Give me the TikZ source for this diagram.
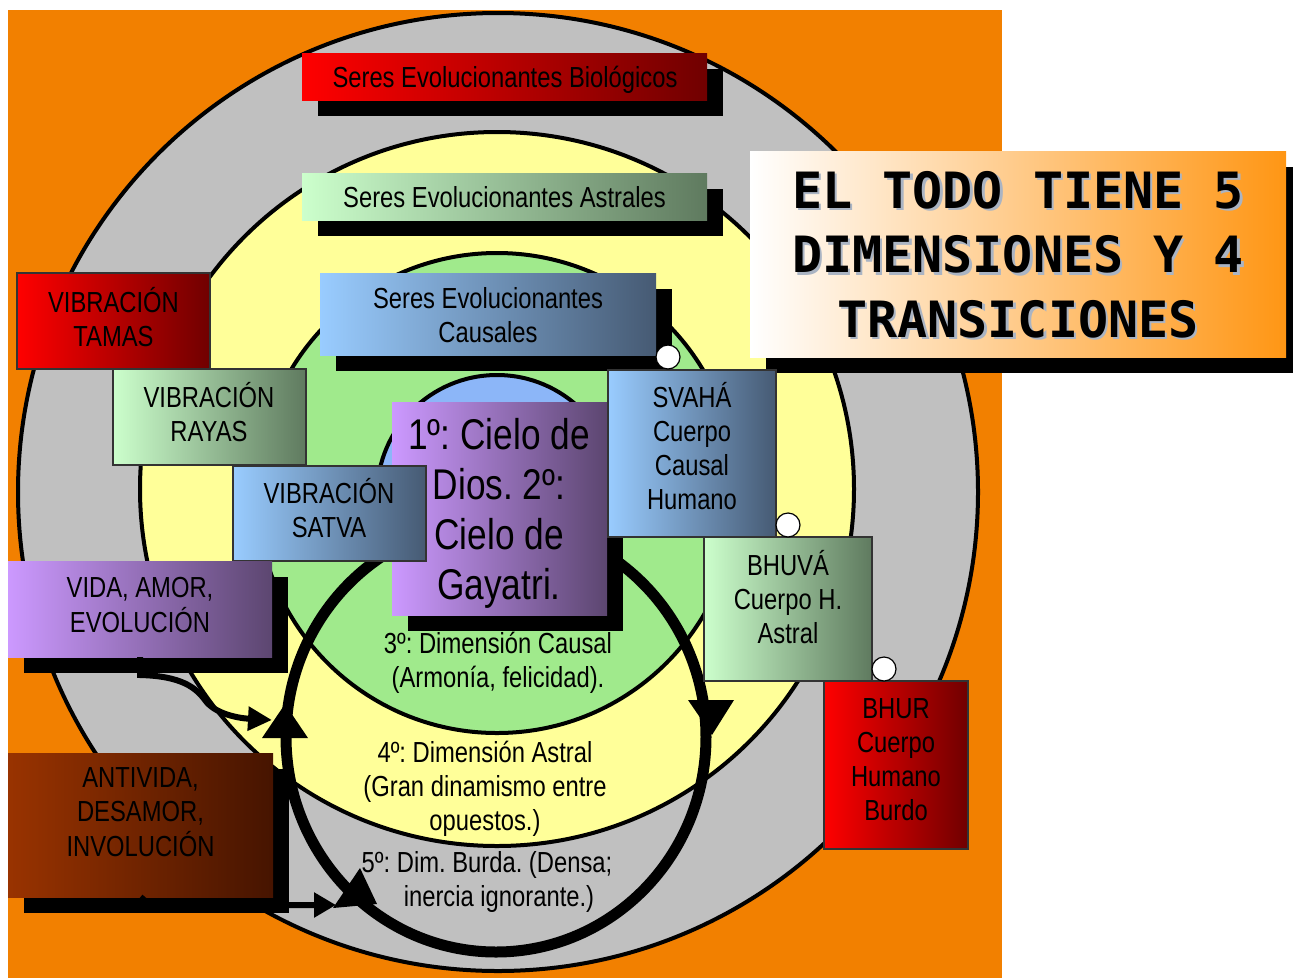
\documentclass[tikz,border=0pt]{standalone}
\usepackage{fontspec}
\setmainfont{Liberation Sans}[FakeStretch=0.82]
\newfontfamily\titlefont{DejaVu Sans Mono}
\usetikzlibrary{shadows,arrows.meta,shapes.geometric}
\definecolor{bgorange}{RGB}{242,128,0}
\definecolor{grayR}{RGB}{192,192,192}
\definecolor{yellowR}{RGB}{255,255,153}
\definecolor{greenR}{RGB}{160,234,140}
\definecolor{blueR}{RGB}{140,182,248}
\definecolor{redL}{RGB}{255,0,0}
\definecolor{redR}{RGB}{112,0,0}
\definecolor{grnL}{RGB}{204,255,204}
\definecolor{grnR}{RGB}{95,122,95}
\definecolor{bluL}{RGB}{153,204,255}
\definecolor{bluR}{RGB}{70,90,115}
\definecolor{purL}{RGB}{204,153,255}
\definecolor{purR}{RGB}{92,70,112}
\definecolor{brnL}{RGB}{153,51,0}
\definecolor{brnR}{RGB}{70,20,0}
\definecolor{titleR}{RGB}{255,150,20}
\definecolor{titleM}{RGB}{253,218,198}
\definecolor{tshadow}{RGB}{170,180,195}
\newcommand\mlines[1]{\begin{tabular}[t]{@{}c@{}}#1\end{tabular}}
\frenchspacing
\begin{document}
\begin{tikzpicture}[x=1pt,y=-1pt,
  box/.style={rectangle, inner sep=0pt, outer sep=0pt},
  frame/.style={draw=black!80, line width=1.2pt},
  shd/.style={drop shadow={shadow xshift=16pt, shadow yshift=-16pt, opacity=1, fill=black}},
  redbox/.style={box, left color=redL, right color=redR},
  grnbox/.style={box, left color=grnL, right color=grnR},
  blubox/.style={box, left color=bluL, right color=bluR},
  purbox/.style={box, left color=purL, right color=purR},
  brnbox/.style={box, left color=brnL, right color=brnR},
  lbl/.style={font=\frenchspacing\fontsize{29}{34}\selectfont, anchor=base, inner sep=0pt},
  biglbl/.style={font=\frenchspacing\fontsize{43}{50}\selectfont, anchor=base, inner sep=0pt},
  ttl/.style={font=\titlefont\bfseries\fontsize{50}{64.5}\selectfont, anchor=base, inner sep=0pt},
  ringline/.style={line width=11pt},
  arr/.style={line width=6pt},
  dot/.style={circle, fill=white, draw=black, line width=1.2pt, minimum size=24pt, inner sep=0pt}
]
\useasboundingbox (0,0) rectangle (1293,978);
% background
\fill[bgorange] (8,10) rectangle (1002,978);
% nested dimensions
\filldraw[fill=grayR, line width=4pt] (498,492) ellipse [x radius=480pt, y radius=479pt];
\filldraw[fill=yellowR, line width=4pt] (497,489) circle [radius=357pt];
\filldraw[fill=greenR, line width=4pt] (497,493) circle [radius=240pt];
\filldraw[fill=blueR, line width=4pt] (497,495) circle [radius=120pt];
% cycle ring
\draw[ringline] (496,737) ellipse [x radius=210pt, y radius=215pt];
\fill (262,738) -- (308,738) -- (285,704) -- cycle;
\fill (688,700) -- (734,700) -- (712,735) -- cycle;
\fill (333,908) -- (360,868) -- (377,904) -- cycle;
% dimension labels
\node[lbl] (dim3) at (498,653) {\mlines{3º: Dimensión Causal\\(Armonía, felicidad).}};
\node[lbl] (dim4) at (485,762) {\mlines{4º: Dimensión Astral\\(Gran dinamismo entre\\opuestos.)}};
\node[lbl] (dim5) at (487,872) {\mlines{5º: Dim. Burda. (Densa;\\\hspace*{24pt}inercia ignorante.)}};
% top boxes
\node[redbox, shd, minimum width=405pt, minimum height=47pt] (bio) at (504.5,76.5) {};
\node[lbl] (bioT) at (505,87) {Seres Evolucionantes Biológicos};
\node[grnbox, shd, minimum width=405pt, minimum height=47pt] (ast) at (504.5,196.5) {};
\node[lbl] (astT) at (504.5,207) {Seres Evolucionantes Astrales};
\node[blubox, shd, minimum width=336pt, minimum height=82pt] (cau) at (488,314) {};
\node[lbl] (cauT) at (488,308) {\mlines{Seres Evolucionantes\\Causales}};
% title
\node[box, shd, left color=white, middle color=titleM, right color=titleR, minimum width=536pt, minimum height=206pt] (title) at (1018,254) {};
\node[ttl, text=tshadow] (titleS) at (1020.5,210.5) {\mlines{EL TODO TIENE 5\\DIMENSIONES Y 4\\TRANSICIONES}};
\node[ttl] (titleT) at (1018,208) {\mlines{EL TODO TIENE 5\\DIMENSIONES Y 4\\TRANSICIONES}};
% central box
\node[purbox, shd, minimum width=215pt, minimum height=213pt] (cielo) at (499.5,508.5) {};
\node[biglbl] (cieloT) at (499,449) {\mlines{1º: Cielo de\\Dios. 2º:\\Cielo de\\Gayatri.}};
% vibration boxes
\node[redbox, frame, minimum width=193pt, minimum height=96pt] (tamas) at (113.5,321) {};
\node[lbl] (tamasT) at (113.5,312) {\mlines{VIBRACIÓN\\TAMAS}};
\node[grnbox, frame, minimum width=193pt, minimum height=96pt] (rayas) at (209.5,417) {};
\node[lbl] (rayasT) at (209,407) {\mlines{VIBRACIÓN\\RAYAS}};
\node[blubox, frame, minimum width=193pt, minimum height=95pt] (satva) at (329.5,513.5) {};
\node[lbl] (satvaT) at (329,503) {\mlines{VIBRACIÓN\\SATVA}};
% left boxes
\node[purbox, shd, minimum width=264pt, minimum height=96pt] (vida) at (140,609) {};
\node[lbl] (vidaT) at (140,597) {\mlines{VIDA, AMOR,\\EVOLUCIÓN}};
\node[brnbox, shd, minimum width=265pt, minimum height=144pt] (anti) at (140.5,825) {};
\node[lbl] (antiT) at (140.5,787) {\mlines{ANTIVIDA,\\DESAMOR,\\INVOLUCIÓN}};
% body boxes
\node[blubox, frame, minimum width=168pt, minimum height=167pt] (svaha) at (692,453.5) {};
\node[lbl] (svahaT) at (692,407) {\mlines{SVAHÁ\\Cuerpo\\Causal\\Humano}};
\node[grnbox, frame, minimum width=168pt, minimum height=144pt] (bhuva) at (788,609) {};
\node[lbl] (bhuvaT) at (788,575) {\mlines{BHUVÁ\\Cuerpo H.\\Astral}};
\node[redbox, frame, minimum width=144pt, minimum height=168pt] (bhur) at (896,765) {};
\node[lbl] (bhurT) at (896,718) {\mlines{BHUR\\Cuerpo\\Humano\\Burdo}};
% arrows into the cycle
\coordinate (vidaend) at (272,720);
\coordinate (antiend) at (336,905);
\draw[arr, -{Triangle[length=24pt,width=23pt]}] (vida.south) -- (140,675) .. controls (182,676) and (196,688) .. (205,700) .. controls (214,713) and (236,718) .. (vidaend);
\draw[arr, -{Triangle[length=22pt,width=24pt]}] (anti.south) -- (150,905) -- (antiend);
% transition dots
\node[dot] (d1) at (668,357) {};
\node[dot] (d2) at (788,525) {};
\node[dot] (d3) at (884,669) {};
\end{tikzpicture}
\end{document}
